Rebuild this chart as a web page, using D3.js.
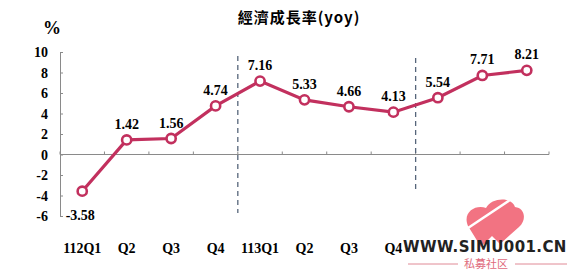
<!DOCTYPE html>
<html>
<head>
    <meta charset="utf-8">
    <style>
        body { margin: 0; background: #fff; }
        svg { display: block; }
        .lbl { font-family: 'Liberation Serif', 'DejaVu Serif', serif; font-weight: bold; }
    </style>
</head>
<body>
    <svg width="580" height="276"></svg>

<script src="https://d3js.org/d3.v7.min.js"></script>
<script>
    //------------------------DATA------------------------//
    let quarters = ["112Q1", "Q2", "Q3", "Q4", "113Q1", "Q2", "Q3", "Q4", "", "", ""]
    let growth = [-3.58, 1.42, 1.56, 4.74, 7.16, 5.33, 4.66, 4.13, 5.54, 7.71, 8.21]
    let yTicks = [-6, -4, -2, 0, 2, 4, 6, 8, 10]
    let yearBreaks = [4, 8]   // dashed line before these quarters
    let title = "經濟成長率(yoy)"

    let svg = d3.select("svg")
    let lineColor = "#c2305e"
    let axisColor = "#8a8a8a"

    //------------------------SCALES------------------------//
    let x = d3.scaleBand()
        .domain(d3.range(growth.length))
        .range([60, 549])

    let y = d3.scaleLinear()
        .domain([-6, 10])
        .range([216, 52])

    //------------------------AXES------------------------//
    // left axis, ticks pointing inward
    let yAxis = svg.append("g")
        .attr("transform", "translate(60,0)")
        .call(d3.axisRight(y).tickValues(yTicks).tickSize(3).tickFormat(""))
    yAxis.selectAll("line, path").attr("stroke", axisColor)

    svg.append("g").selectAll("text")
        .data(yTicks)
        .join("text")
        .attr("class", "lbl")
        .attr("x", 48)
        .attr("y", d => y(d) + 5)
        .attr("text-anchor", "end")
        .attr("font-size", 14)
        .text(d => d)

    svg.append("text")
        .attr("class", "lbl")
        .attr("x", 52)
        .attr("y", 34)
        .attr("text-anchor", "middle")
        .attr("font-size", 18)
        .text("%")

    // zero line with category boundary ticks
    let bounds = d3.range(growth.length + 1).map(i => i < growth.length ? x(i) : x.range()[1])
    svg.append("line")
        .attr("x1", x.range()[0]).attr("x2", x.range()[1])
        .attr("y1", y(0)).attr("y2", y(0))
        .attr("stroke", axisColor).attr("stroke-width", 1.2)
    svg.append("g").selectAll("line")
        .data(bounds)
        .join("line")
        .attr("x1", d => d).attr("x2", d => d)
        .attr("y1", y(0)).attr("y2", y(0) - 3)
        .attr("stroke", axisColor)

    // category labels
    svg.append("g").selectAll("text")
        .data(quarters)
        .join("text")
        .attr("class", "lbl")
        .attr("x", (d, i) => x(i) + x.bandwidth() / 2)
        .attr("y", 253)
        .attr("text-anchor", "middle")
        .attr("font-size", 14)
        .text(d => d)

    // dashed year separators
    svg.append("g").selectAll("line")
        .data(yearBreaks)
        .join("line")
        .attr("x1", d => x(d)).attr("x2", d => x(d))
        .attr("y1", (d, i) => i == 0 ? 56 : 58)
        .attr("y2", (d, i) => i == 0 ? 213 : 191)
        .attr("stroke", "#56657a")
        .attr("stroke-width", 1.3)
        .attr("stroke-dasharray", "5,4")

    //------------------------LINE------------------------//
    let line = d3.line()
        .x((d, i) => x(i) + x.bandwidth() / 2)
        .y(d => y(d))

    svg.append("path")
        .datum(growth)
        .attr("d", line)
        .attr("fill", "none")
        .attr("stroke", lineColor)
        .attr("stroke-width", 3.2)

    svg.append("g").selectAll("circle")
        .data(growth)
        .join("circle")
        .attr("cx", (d, i) => x(i) + x.bandwidth() / 2)
        .attr("cy", d => y(d))
        .attr("r", 4.6)
        .attr("fill", "#fff")
        .attr("stroke", lineColor)
        .attr("stroke-width", 2.6)

    svg.append("g").selectAll("text")
        .data(growth)
        .join("text")
        .attr("class", "lbl")
        .attr("x", (d, i) => x(i) + x.bandwidth() / 2 + (d < 0 ? -2 : 0))
        .attr("y", d => d < 0 ? y(d) + 29 : y(d) - 11)
        .attr("text-anchor", "middle")
        .attr("font-size", 14)
        .text(d => d.toFixed(2))

    //------------------------TITLE------------------------//
    svg.append("text")
        .attr("x", 299)
        .attr("y", 23)
        .attr("text-anchor", "middle")
        .attr("font-family", "'Noto Sans CJK TC', 'Liberation Serif', serif")
        .attr("font-weight", "bold")
        .attr("font-size", 15)
        .attr("letter-spacing", 1)
        .text(title)

    //------------------------WATERMARK------------------------//
    let wm = svg.append("g")
    wm.append("path")
        .attr("d", "M468,226 C462,212 476,204 486,208 C492,197 512,197 515,207 C525,208 527,220 519,227 L500,244 L492,236 L481,247 Z")
        .attr("fill", "#f05a6c")
        .attr("opacity", 0.85)
    wm.append("line")
        .attr("x1", 462).attr("y1", 232).attr("x2", 516).attr("y2", 196)
        .attr("stroke", "#fff").attr("stroke-width", 2.5)
    wm.append("text")
        .attr("x", 403)
        .attr("y", 252)
        .attr("font-family", "'DejaVu Sans', sans-serif")
        .attr("font-weight", "bold")
        .attr("font-size", 15)
        .attr("fill", "#222")
        .attr("letter-spacing", 0.4)
        .text("WWW.SIMU001.CN")
    wm.append("line")
        .attr("x1", 408).attr("x2", 458).attr("y1", 264).attr("y2", 264)
        .attr("stroke", "#e08a96")
    wm.append("line")
        .attr("x1", 515).attr("x2", 567).attr("y1", 264).attr("y2", 264)
        .attr("stroke", "#e08a96")
    wm.append("text")
        .attr("x", 486)
        .attr("y", 268)
        .attr("text-anchor", "middle")
        .attr("font-family", "'Noto Sans CJK SC', sans-serif")
        .attr("font-size", 11)
        .attr("fill", "#e06a7c")
        .text("私募社区")
</script>
</body>
</html>
